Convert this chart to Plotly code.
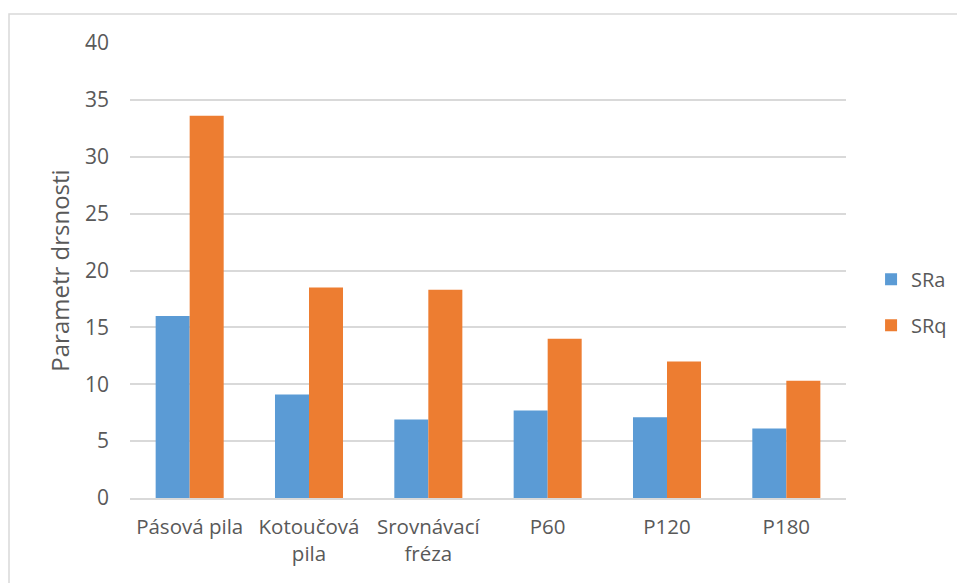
import plotly.graph_objects as go

# Roughness parameters per machining method
categories = ["Pásová pila", "Kotoučová<br>pila", "Srovnávací<br>fréza", "P60", "P120", "P180"]
sra_values = [16.0, 9.1, 6.9, 7.7, 7.1, 6.1]
srq_values = [33.6, 18.5, 18.3, 14.0, 12.0, 10.3]
y_ticks = [0, 5, 10, 15, 20, 25, 30, 35, 40]

TEXT = "#595959"
GRID = "#d9d9d9"
FONT = "Open Sans"

fig = go.Figure()
fig.add_trace(go.Bar(name="SRa", x=categories, y=sra_values,
                     marker=dict(color="#5B9BD5", line=dict(width=0)),
                     legendgroup="a"))
fig.add_trace(go.Bar(name="SRq", x=categories, y=srq_values,
                     marker=dict(color="#ED7D31", line=dict(width=0)),
                     legendgroup="q"))

fig.update_layout(
    width=957, height=583,
    margin=dict(l=130, r=111, t=43, b=85, autoexpand=False),
    paper_bgcolor="white", plot_bgcolor="white",
    barmode="group", bargap=0.43, bargroupgap=0,
    font=dict(family=FONT, color=TEXT, size=20),
    legend=dict(x=1.035, y=0.43, xanchor="left", yanchor="middle",
                font=dict(size=20, color=TEXT), tracegroupgap=17,
                itemwidth=30),
    showlegend=True,
    xaxis=dict(showgrid=False, showline=True, linecolor=GRID, linewidth=1.5,
               ticks="", tickfont=dict(size=20.5, color=TEXT),
               ticklabelstandoff=10, fixedrange=True),
    yaxis=dict(range=[0, 40], tickvals=y_ticks, showgrid=True, gridcolor=GRID,
               gridwidth=1.5, zeroline=False, showline=False, ticks="",
               tickfont=dict(size=21, color=TEXT), ticklabelstandoff=20,
               title=dict(text="Parametr drsnosti", font=dict(size=24, color=TEXT),
                          standoff=8)),
    shapes=[dict(type="rect", xref="paper", yref="paper",
                 x0=-0.169, x1=1.25, y0=-0.3, y1=1.064,
                 line=dict(color=GRID, width=1.5), layer="below")],
)

fig.write_html("out.html")
